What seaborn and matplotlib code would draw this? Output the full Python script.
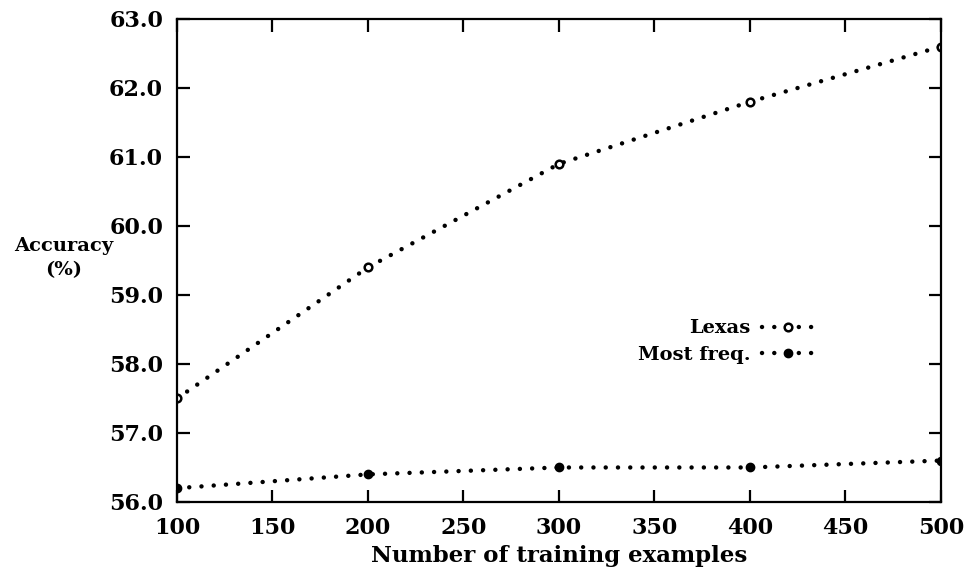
import matplotlib
matplotlib.use("Agg")
import matplotlib.pyplot as plt
import seaborn as sns
import pandas as pd

train_sizes = [100, 200, 300, 400, 500]
lexas = [57.5, 59.4, 60.9, 61.8, 62.6]
most_freq = [56.2, 56.4, 56.5, 56.5, 56.6]
series_names = ["Lexas", "Most freq."]
x_ticks = [100, 150, 200, 250, 300, 350, 400, 450, 500]
y_ticks = [56.0, 57.0, 58.0, 59.0, 60.0, 61.0, 62.0, 63.0]

sns.set_theme(style="ticks")
plt.rcParams["font.family"] = ["DejaVu Serif"]
plt.rcParams["font.weight"] = "bold"
plt.rcParams["text.color"] = "black"
plt.rcParams["axes.labelcolor"] = "black"

fig = plt.figure(figsize=(9.64, 5.75), dpi=100)
ax = fig.add_axes([0.1836, 0.127, 0.7925, 0.840])

dot_style = (0, (0.01, 2.75))
common = dict(color="black", linewidth=3.2, linestyle=dot_style,
              dash_capstyle="round", marker="o",
              markeredgecolor="black")

df = pd.DataFrame({"x": train_sizes, "lexas": lexas, "mf": most_freq})
sns.lineplot(data=df, x="x", y="lexas", ax=ax, label=series_names[0],
             markerfacecolor="white", markersize=5.5, markeredgewidth=1.8,
             **common)
sns.lineplot(data=df, x="x", y="mf", ax=ax, label=series_names[1],
             markerfacecolor="black", markersize=6, markeredgewidth=1.0,
             **common)

ax.set_xlim(100, 500)
ax.set_ylim(56.0, 63.0)
ax.set_xticks(x_ticks)
ax.set_yticks(y_ticks)
ax.set_yticklabels([f"{v:.1f}" for v in y_ticks])
ax.tick_params(direction="in", length=9, width=1.6, top=True, right=True,
               labelsize=16, colors="black")
ax.tick_params(axis="y", pad=10)
ax.tick_params(axis="x", pad=11)
for lab in ax.get_xticklabels() + ax.get_yticklabels():
    lab.set_fontweight("bold")
for sp in ax.spines.values():
    sp.set_visible(True)
    sp.set_linewidth(1.6)
    sp.set_color("black")

ax.set_xlabel("Number of training examples", fontsize=16.5, fontweight="bold",
              labelpad=4)
ax.set_ylabel("Accuracy\n(%)", fontsize=14, fontweight="bold", rotation=0,
              ha="center", va="center", linespacing=1.5)
ax.yaxis.set_label_coords(-0.148, 0.505)

leg = ax.legend(loc="upper right", bbox_to_anchor=(0.845, 0.398),
                frameon=False, markerfirst=False,
                handlelength=2.6, handletextpad=0.6, labelspacing=0.45,
                borderpad=0, prop={"weight": "bold", "size": 14})

fig.savefig("out.png", dpi=100, facecolor="white")
